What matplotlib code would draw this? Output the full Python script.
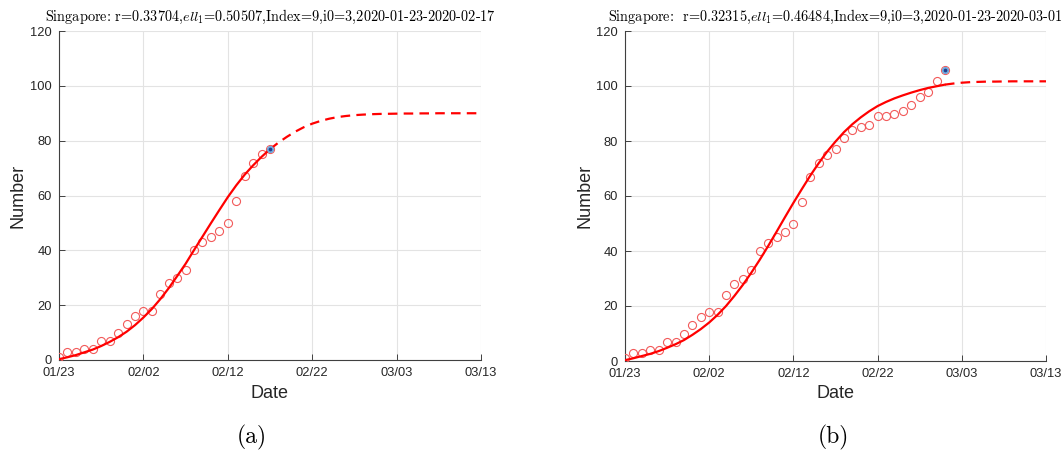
import matplotlib
matplotlib.use("Agg")
import matplotlib.pyplot as plt
import matplotlib.dates as mdates
import pandas as pd

# Cumulative confirmed cases in Singapore, daily from 2020-01-23
start_date = "2020-01-23"
cases = [1, 3, 3, 4, 4, 7, 7, 10, 13, 16,
         18, 18, 24, 28, 30, 33, 40, 43, 45, 47,
         50, 58, 67, 72, 75, 77, 81, 84, 85, 86,
         89, 89, 90, 91, 93, 96, 98, 102, 106]

# Fitted trajectories, one value per day from 2020-01-23 to 2020-03-13
fit_a = [0.3, 1.0, 1.8, 2.8, 3.8, 5.1, 6.6, 8.3, 10.3, 12.7,
         15.5, 18.6, 22.2, 26.2, 30.6, 35.1, 40.1, 45.0, 49.9, 54.7,
         59.4, 63.7, 67.6, 71.0, 74.1, 76.9, 79.3, 81.4, 83.3, 84.9,
         86.2, 87.2, 88.0, 88.6, 89.0, 89.3, 89.5, 89.65, 89.75, 89.8,
         89.85, 89.9, 89.9, 89.95, 89.95, 90.0, 90.0, 90.0, 90.0, 90.0,
         90.0]
fit_b = [0.3, 1.0, 1.8, 2.6, 3.6, 4.8, 6.1, 7.6, 9.5, 11.6,
         14.0, 16.8, 20.0, 23.7, 27.7, 32.1, 36.8, 41.8, 47.0, 52.3,
         57.5, 62.5, 67.4, 71.9, 76.1, 79.8, 83.2, 86.1, 88.6, 90.8,
         92.7, 94.2, 95.5, 96.6, 97.6, 98.5, 99.3, 99.9, 100.5, 100.9,
         101.2, 101.4, 101.5, 101.6, 101.6, 101.65, 101.7, 101.7, 101.7, 101.7,
         101.7]

# Fitting windows (number of observed days used)
n_days_a = 26
n_days_b = 39

titles = [
    r"Singapore: r=0.33704,$ell_1$=0.50507,Index=9,i0=3,2020-01-23-2020-02-17",
    r"Singapore:  r=0.32315,$ell_1$=0.46484,Index=9,i0=3,2020-01-23-2020-03-01",
]
captions = ["(a)", "(b)"]
tick_dates = ["2020-01-23", "2020-02-02", "2020-02-12", "2020-02-22",
              "2020-03-03", "2020-03-13"]
y_ticks = [0, 20, 40, 60, 80, 100, 120]

plt.rcParams["mathtext.fontset"] = "cm"
plt.rcParams["axes.unicode_minus"] = False

obs_dates = pd.date_range(start_date, periods=len(cases), freq="D")
fit_dates = pd.date_range(start_date, periods=len(fit_a), freq="D")

fig = plt.figure(figsize=(10.62, 4.54), dpi=100)
W, H = 1062.0, 454.0

axes_px = [(59, 31, 422, 329), (625, 31, 421, 330)]
ylabel_x = [18, 585]
caption_x = [252, 833]

axis_col = "#404040"
text_col = "#262626"
circle_col = "#f25a5a"

for i, (fit, n) in enumerate([(fit_a, n_days_a), (fit_b, n_days_b)]):
    l, t, w, h = axes_px[i]
    ax = fig.add_axes([l / W, 1 - (t + h) / H, w / W, h / H])

    ax.plot(obs_dates[:n], cases[:n], linestyle="none", marker="o",
            markersize=5.8, markerfacecolor="none", markeredgecolor=circle_col,
            markeredgewidth=0.8, zorder=3)
    ax.plot(fit_dates[:n], fit[:n], color="red", lw=1.6, zorder=4,
            solid_capstyle="round")
    ax.plot(fit_dates[n - 1:], fit[n - 1:], color="red", lw=1.6, zorder=4,
            dashes=(4.3, 2.8))
    # highlight the last observation of the window
    ax.plot(obs_dates[n - 1], cases[n - 1], marker="o", markersize=4.2,
            markerfacecolor="#6fa8dc", markeredgecolor="#6fa8dc", zorder=5)
    ax.plot(obs_dates[n - 1], cases[n - 1], marker="o", markersize=1.6,
            markerfacecolor="#1f3f8f", markeredgecolor="#1f3f8f", zorder=6)

    ax.set_xlim(pd.Timestamp(tick_dates[0]), pd.Timestamp(tick_dates[-1]))
    ax.set_ylim(0, 120)
    ax.set_xticks([pd.Timestamp(d) for d in tick_dates])
    ax.xaxis.set_major_formatter(mdates.DateFormatter("%m/%d"))
    ax.set_yticks(y_ticks)

    ax.grid(True, color="#e3e3e3", linewidth=0.8)
    ax.set_axisbelow(True)
    for side in ["top", "right"]:
        ax.spines[side].set_visible(False)
    for side in ["left", "bottom"]:
        ax.spines[side].set_color(axis_col)
        ax.spines[side].set_linewidth(0.8)

    ax.tick_params(direction="in", length=4, width=0.7, color=axis_col,
                   labelsize=9.3, labelcolor=text_col, pad=5)
    for lab in ax.get_xticklabels() + ax.get_yticklabels():
        lab.set_fontfamily("Liberation Sans")

    ax.set_title(titles[i], fontfamily="cmr10", fontsize=10.3, color="black",
                 pad=7)
    ax.set_xlabel("Date", fontfamily="Liberation Sans", fontsize=13,
                  color=text_col, labelpad=4)
    fig.text(ylabel_x[i] / W, 1 - (t + h / 2) / H, "Number",
             fontfamily="Liberation Sans", fontsize=13, color=text_col,
             rotation=90, ha="center", va="center")
    fig.text(caption_x[i] / W, 1 - 437 / H, captions[i], fontfamily="cmr10",
             fontsize=17, color="black", ha="center", va="center")

fig.savefig("out.png", dpi=100)
